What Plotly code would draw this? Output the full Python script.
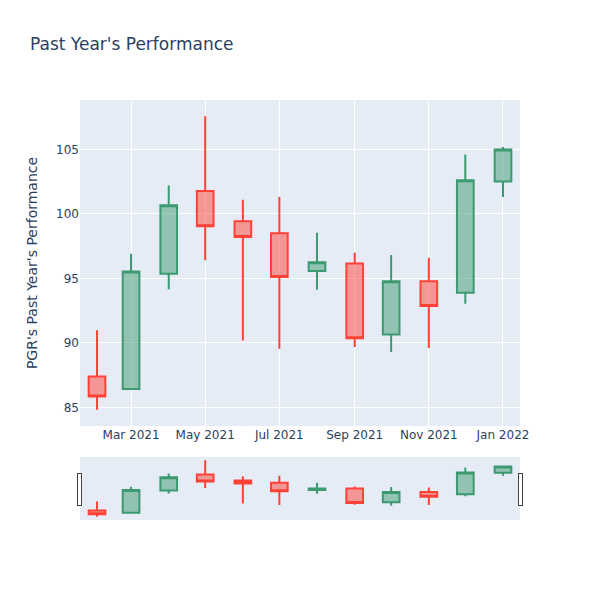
import plotly.graph_objects as go

dates = ["2021-02-01", "2021-03-01", "2021-04-01", "2021-05-01", "2021-06-01", "2021-07-01",
         "2021-08-01", "2021-09-01", "2021-10-01", "2021-11-01", "2021-12-01", "2022-01-01"]
open_ = [87.4, 86.42, 95.36, 101.77, 99.42, 98.49, 95.57, 96.16, 90.64, 94.77, 93.89, 102.5]
high = [90.97, 96.91, 102.19, 107.56, 101.1, 101.3, 98.54, 96.99, 96.81, 96.6, 104.59, 105.18]
low = [84.82, 86.4, 94.15, 96.4, 90.19, 89.55, 94.12, 89.68, 89.29, 89.6, 93.04, 101.3]
close = [85.85, 95.54, 100.66, 99.03, 98.2, 95.1, 96.24, 90.35, 94.77, 92.85, 102.6, 104.98]

fig = go.Figure(go.Candlestick(x=dates, open=open_, high=high, low=low, close=close))
# page body has an 8px margin, so shrink the figure to keep the plot where it was
fig.update_layout(
    title=dict(text="Past Year's Performance", x=22 / 592, y=1 - 36 / 592, yanchor="middle"),
    yaxis_title="PGR's Past Year's Performance",
    font_family="DejaVu Sans",
    width=592,
    height=592,
    margin=dict(l=72, r=80, t=92, b=80),
)

fig.write_html("out.html")
